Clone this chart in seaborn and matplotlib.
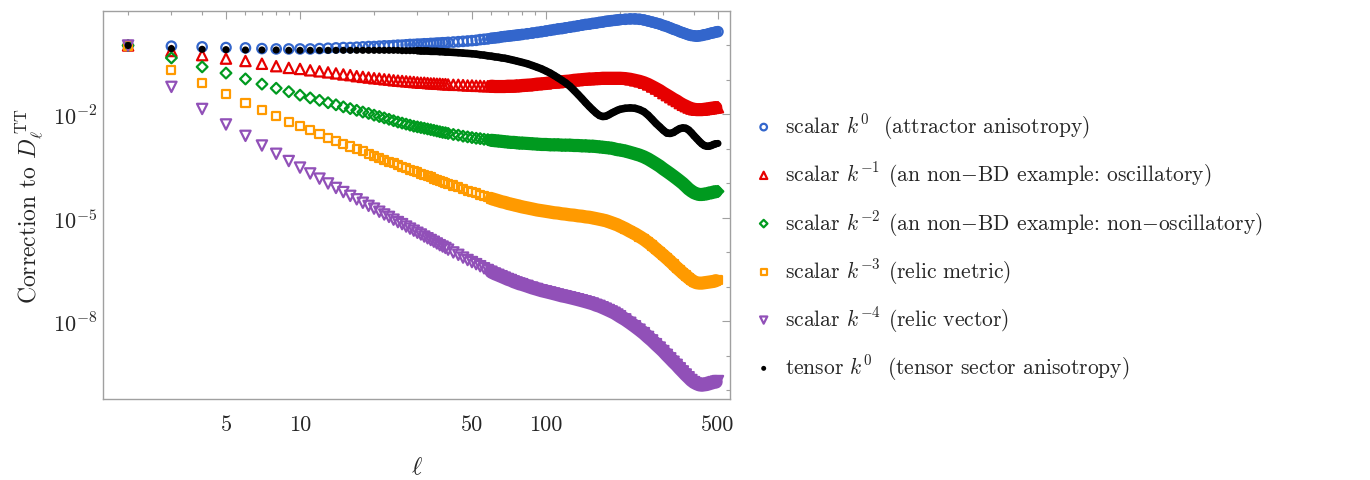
import numpy as np
import pandas as pd
import matplotlib
matplotlib.use("Agg")
import matplotlib.pyplot as plt
import seaborn as sns
from matplotlib.ticker import FixedLocator, NullFormatter

# multipoles sampled (dense at low ell, coarser where markers merge into a band)
ell = (list(range(2, 41)) + list(range(42, 81, 2)) + list(range(84, 121, 4))
       + list(range(125, 201, 5)) + list(range(210, 501, 10)))

# log10 of the correction
log_scalar_k0 = [
    0.00, -0.02, -0.04, -0.06, -0.07, -0.09, -0.10, -0.10, -0.10,
    -0.10, -0.09, -0.08, -0.07, -0.06, -0.06, -0.05, -0.04, -0.03, -0.03,
    -0.02, -0.01, -0.01, 0.00, 0.01, 0.01, 0.02, 0.03, 0.03, 0.04,
    0.04, 0.05, 0.05, 0.06, 0.06, 0.07, 0.07, 0.08, 0.08, 0.09,
    0.10, 0.11, 0.12, 0.13, 0.14, 0.15, 0.17, 0.18, 0.19, 0.21,
    0.22, 0.23, 0.25, 0.26, 0.27, 0.28, 0.29, 0.30, 0.31, 0.32,
    0.34, 0.36, 0.38, 0.40, 0.42, 0.44, 0.46, 0.48, 0.49, 0.51,
    0.53, 0.55, 0.57, 0.59, 0.61, 0.62, 0.64, 0.65, 0.67, 0.68, 0.70, 0.71, 0.72, 0.73, 0.74, 0.75,
    0.76, 0.77, 0.77, 0.76, 0.74, 0.71, 0.68, 0.65, 0.62, 0.58, 0.55, 0.51, 0.47, 0.44, 0.40,
    0.37, 0.34, 0.31, 0.29, 0.28, 0.27, 0.28, 0.29, 0.31, 0.32, 0.34, 0.36, 0.37, 0.39, 0.40]
log_scalar_km1 = [
    0.00, -0.16, -0.28, -0.38, -0.45, -0.53, -0.60, -0.65, -0.68,
    -0.72, -0.75, -0.78, -0.81, -0.84, -0.86, -0.89, -0.91, -0.93, -0.95,
    -0.96, -0.98, -0.99, -1.01, -1.02, -1.03, -1.04, -1.05, -1.06, -1.07,
    -1.08, -1.08, -1.09, -1.10, -1.10, -1.11, -1.11, -1.12, -1.12, -1.13,
    -1.14, -1.14, -1.15, -1.16, -1.16, -1.17, -1.17, -1.18, -1.18, -1.18,
    -1.19, -1.19, -1.19, -1.19, -1.18, -1.18, -1.18, -1.17, -1.17, -1.16,
    -1.15, -1.14, -1.12, -1.11, -1.10, -1.08, -1.07, -1.06, -1.05, -1.04,
    -1.03, -1.01, -1.00, -0.99, -0.98, -0.97, -0.97, -0.96, -0.96, -0.95, -0.95, -0.95, -0.95, -0.95, -0.95, -0.95,
    -0.96, -0.98, -1.01, -1.04, -1.08, -1.13, -1.19, -1.25, -1.31, -1.38, -1.44, -1.50, -1.56, -1.61, -1.67,
    -1.72, -1.76, -1.80, -1.83, -1.85, -1.86, -1.86, -1.86, -1.85, -1.84, -1.83, -1.82, -1.81, -1.80, -1.79]
log_scalar_km2 = [
    0.00, -0.36, -0.62, -0.80, -0.97, -1.12, -1.24, -1.34, -1.44,
    -1.52, -1.59, -1.66, -1.72, -1.78, -1.83, -1.88, -1.93, -1.97, -2.02,
    -2.06, -2.10, -2.14, -2.18, -2.22, -2.25, -2.28, -2.31, -2.34, -2.36,
    -2.38, -2.40, -2.42, -2.44, -2.46, -2.48, -2.50, -2.52, -2.53, -2.55,
    -2.58, -2.60, -2.63, -2.65, -2.67, -2.69, -2.70, -2.72, -2.73, -2.75,
    -2.76, -2.77, -2.78, -2.79, -2.80, -2.81, -2.81, -2.82, -2.83, -2.83,
    -2.84, -2.85, -2.86, -2.87, -2.87, -2.88, -2.88, -2.88, -2.89, -2.89,
    -2.89, -2.90, -2.90, -2.91, -2.91, -2.92, -2.92, -2.93, -2.94, -2.95, -2.96, -2.97, -2.98, -3.00, -3.02, -3.03,
    -3.06, -3.10, -3.14, -3.18, -3.23, -3.29, -3.36, -3.43, -3.50, -3.58, -3.65, -3.72, -3.79, -3.86, -3.93,
    -4.00, -4.08, -4.16, -4.22, -4.27, -4.30, -4.32, -4.32, -4.31, -4.30, -4.28, -4.27, -4.25, -4.24, -4.23]
log_scalar_km3 = [
    0.00, -0.70, -1.10, -1.41, -1.66, -1.86, -2.05, -2.21, -2.34,
    -2.46, -2.57, -2.67, -2.76, -2.85, -2.93, -3.00, -3.07, -3.14, -3.20,
    -3.26, -3.31, -3.37, -3.42, -3.47, -3.52, -3.56, -3.60, -3.64, -3.68,
    -3.72, -3.75, -3.79, -3.82, -3.86, -3.89, -3.92, -3.95, -3.98, -4.01,
    -4.06, -4.11, -4.16, -4.21, -4.25, -4.29, -4.33, -4.37, -4.40, -4.44,
    -4.47, -4.50, -4.53, -4.55, -4.58, -4.60, -4.62, -4.64, -4.66, -4.68,
    -4.71, -4.74, -4.77, -4.79, -4.81, -4.83, -4.85, -4.86, -4.88, -4.89,
    -4.91, -4.92, -4.94, -4.95, -4.97, -4.98, -5.00, -5.02, -5.04, -5.06, -5.08, -5.11, -5.14, -5.17, -5.20, -5.24,
    -5.31, -5.39, -5.46, -5.54, -5.62, -5.71, -5.80, -5.90, -5.99, -6.08, -6.17, -6.26, -6.35, -6.44, -6.52,
    -6.60, -6.67, -6.74, -6.80, -6.85, -6.88, -6.89, -6.89, -6.88, -6.87, -6.86, -6.85, -6.84, -6.82, -6.81]
log_scalar_km4 = [
    0.00, -1.20, -1.84, -2.29, -2.62, -2.90, -3.14, -3.35, -3.54,
    -3.71, -3.86, -4.00, -4.13, -4.25, -4.36, -4.46, -4.56, -4.65, -4.73,
    -4.82, -4.90, -4.97, -5.05, -5.12, -5.18, -5.25, -5.31, -5.37, -5.43,
    -5.48, -5.54, -5.59, -5.64, -5.69, -5.74, -5.79, -5.83, -5.87, -5.92,
    -6.00, -6.07, -6.15, -6.22, -6.28, -6.34, -6.40, -6.46, -6.51, -6.56,
    -6.61, -6.65, -6.69, -6.73, -6.77, -6.80, -6.84, -6.87, -6.90, -6.92,
    -6.97, -7.02, -7.06, -7.10, -7.13, -7.16, -7.19, -7.22, -7.25, -7.27,
    -7.30, -7.33, -7.36, -7.39, -7.42, -7.45, -7.48, -7.52, -7.55, -7.59, -7.63, -7.67, -7.71, -7.75, -7.80, -7.85,
    -7.94, -8.04, -8.14, -8.24, -8.34, -8.45, -8.55, -8.66, -8.76, -8.86, -8.97, -9.07, -9.17, -9.26, -9.36,
    -9.45, -9.54, -9.62, -9.70, -9.76, -9.80, -9.83, -9.84, -9.83, -9.82, -9.80, -9.78, -9.76, -9.75, -9.73]
log_tensor_k0 = [
    0.00, -0.09, -0.11, -0.12, -0.13, -0.13, -0.13, -0.14, -0.14,
    -0.14, -0.14, -0.14, -0.14, -0.14, -0.14, -0.14, -0.14, -0.14, -0.14,
    -0.14, -0.14, -0.14, -0.14, -0.14, -0.15, -0.15, -0.15, -0.15, -0.15,
    -0.16, -0.16, -0.16, -0.17, -0.17, -0.17, -0.18, -0.18, -0.19, -0.19,
    -0.20, -0.21, -0.22, -0.23, -0.24, -0.25, -0.27, -0.28, -0.30, -0.31,
    -0.33, -0.34, -0.36, -0.37, -0.39, -0.41, -0.43, -0.45, -0.47, -0.49,
    -0.53, -0.58, -0.63, -0.68, -0.74, -0.80, -0.87, -0.94, -1.01, -1.08,
    -1.18, -1.30, -1.42, -1.54, -1.66, -1.77, -1.87, -1.96, -2.03, -2.06, -2.05, -2.01, -1.96, -1.92, -1.88, -1.85,
    -1.82, -1.81, -1.82, -1.86, -1.92, -2.02, -2.14, -2.26, -2.36, -2.46, -2.54, -2.55, -2.52, -2.46, -2.41,
    -2.39, -2.40, -2.45, -2.53, -2.62, -2.70, -2.78, -2.85, -2.90, -2.92, -2.92, -2.90, -2.87, -2.85, -2.84]

labels = [
    r"scalar $k^{0}$  (attractor anisotropy)",
    r"scalar $k^{-1}$ (an non$-$BD example: oscillatory)",
    r"scalar $k^{-2}$ (an non$-$BD example: non$-$oscillatory)",
    r"scalar $k^{-3}$ (relic metric)",
    r"scalar $k^{-4}$ (relic vector)",
    r"tensor $k^{0}$  (tensor sector anisotropy)",
]
logs = [log_scalar_k0, log_scalar_km1, log_scalar_km2, log_scalar_km3, log_scalar_km4, log_tensor_k0]
colors = ["#3366cc", "#e60000", "#009a1f", "#ff9a00", "#9150b8", "#000000"]
markers = ["o", "^", "D", "s", "v", "o"]
sizes = [46, 55, 30, 34, 55, 26]
filled = [False, False, False, False, False, True]
# where the dense markers merge into a solid band, and its thickness (pt)
band_from = [60, 60, 60, 60, 60, 30]
band_width = [7.8, 9.5, 9.5, 9.5, 10.0, 5.5]

frames = []
for lab, lg in zip(labels, logs):
    frames.append(pd.DataFrame({"ell": ell, "value": 10.0 ** np.array(lg), "series": lab}))
df = pd.concat(frames, ignore_index=True)

sns.set_style("white")
plt.rcParams["font.family"] = ["cmr10", "DejaVu Serif"]
plt.rcParams["mathtext.fontset"] = "cm"
plt.rcParams["axes.unicode_minus"] = False
plt.rcParams["axes.formatter.use_mathtext"] = True

fig = plt.figure(figsize=(13.7, 4.81), dpi=100)
ax = fig.add_axes([103 / 1370, 1 - 400 / 481, 627 / 1370, 388 / 481])

for i, lab in enumerate(labels):
    sub = df[df["series"] == lab]
    # the band stops one sample short so the last open marker keeps its hole
    dense = sub[(sub["ell"] >= band_from[i]) & (sub["ell"] < sub["ell"].max())]
    sns.lineplot(data=dense, x="ell", y="value", color=colors[i], linewidth=band_width[i],
                 solid_capstyle="round", solid_joinstyle="round", label="_nolegend_",
                 legend=False, ax=ax, zorder=2.5 + i)
    if filled[i]:
        sns.scatterplot(data=sub, x="ell", y="value", marker=markers[i], s=sizes[i],
                        color=colors[i], edgecolor="none", linewidth=0,
                        label=lab, ax=ax, zorder=3 + i)
    else:
        sns.scatterplot(data=sub, x="ell", y="value", marker=markers[i], s=sizes[i],
                        color=colors[i], facecolor="none", edgecolor=colors[i],
                        linewidth=1.6, label=lab, ax=ax, zorder=3 + i)

ax.set_xscale("log")
ax.set_yscale("log")
ax.set_xlim(10 ** 0.199, 10 ** 2.748)
ax.set_ylim(10 ** -10.25, 10 ** 1.0)

ax.xaxis.set_major_locator(FixedLocator([5, 10, 50, 100, 500]))
ax.xaxis.set_minor_locator(FixedLocator([2, 3, 4, 6, 7, 8, 9, 20, 30, 40, 60, 70, 80, 90, 200, 300, 400]))
ax.set_xticklabels(["5", "10", "50", "100", "500"])
ax.xaxis.set_minor_formatter(NullFormatter())

ax.yaxis.set_major_locator(FixedLocator([1e-8, 1e-5, 1e-2]))
ax.yaxis.set_minor_locator(FixedLocator([1e-10, 1e-9, 1e-7, 1e-6, 1e-4, 1e-3, 1e-1, 1e0]))
ax.set_yticklabels([r"$10^{-8}$", r"$10^{-5}$", r"$10^{-2}$"])
ax.yaxis.set_minor_formatter(NullFormatter())

frame_c = "#a0a0a0"
for sp in ax.spines.values():
    sp.set_color(frame_c)
    sp.set_linewidth(1.0)
ax.tick_params(which="both", direction="in", top=True, right=True, color=frame_c, width=0.8)
ax.tick_params(which="major", length=5.5)
ax.tick_params(which="minor", length=3)
ax.tick_params(axis="x", which="major", labelsize=16, pad=11)
ax.tick_params(axis="y", which="major", labelsize=16, pad=4)

ax.set_xlabel(r"$\ell$", fontsize=18, labelpad=16)
ax.set_ylabel(r"Correction to $D_\ell^{\,\mathrm{TT}}$", fontsize=17, labelpad=6)

ax.legend(loc="center left", bbox_to_anchor=(754 / 1370, 1 - 248 / 481),
          bbox_transform=fig.transFigure, frameon=False, fontsize=15.5,
          markerscale=0.7, handlelength=0.9, handletextpad=0.55,
          labelspacing=0.86, borderpad=0, borderaxespad=0)

fig.savefig("out.png", dpi=100)
